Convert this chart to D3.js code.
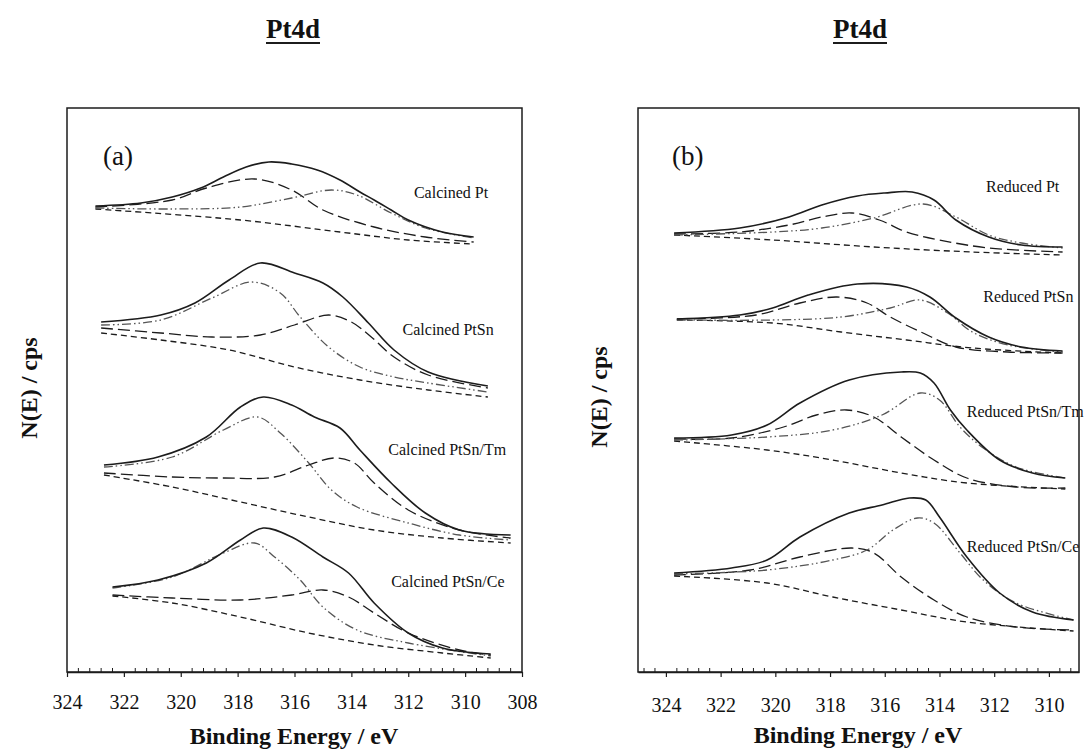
<!DOCTYPE html>
<html>
<head>
<meta charset="utf-8">
<script src="https://cdn.jsdelivr.net/npm/d3@7"></script>
<style>
  body { margin: 0; background: #fff; }
  svg text { font-family: "Liberation Serif", "Times New Roman", serif; fill: #111; }
</style>
</head>
<body>
<svg id="chart" width="1092" height="749"></svg>
<script>
// ---- panel (a) calcined samples: [binding energy eV, N(E) arb.] ----
const calPt_sum = [[323.0,466],[321.4,469],[320.3,475],[319.3,484],[318.5,495],[317.7,505],[316.9,510],[316.1,508],[315.2,502],[314.4,492],[313.7,480],[313.2,472],[312.6,462],[312.0,452],[310.8,440],[309.7,435]]
const calPt_hi  = [[323.0,465],[320.3,472],[319.1,484],[317.4,493],[316.1,482],[315.0,462],[313.2,445],[311.4,435],[309.7,430]]
const calPt_lo  = [[323.0,464],[320.3,463],[317.9,465],[316.1,474],[314.7,482],[313.8,477],[312.6,459],[311.4,444],[309.7,434]]
const calPt_bg  = [[323.0,463],[317.9,452],[314.4,440],[312.0,432],[309.7,428]]

const calPtSn_sum = [[322.8,350],[320.7,357],[319.5,369],[318.3,392],[317.2,409],[316.0,399],[315.0,389],[314.3,375],[313.4,349],[312.5,322],[311.3,300],[309.2,286]]
const calPtSn_hi  = [[322.8,347],[320.7,352],[318.9,374],[317.5,390],[316.5,379],[315.8,355],[314.8,325],[313.7,305],[312.5,295],[311.3,289],[309.2,280]]
const calPtSn_lo  = [[322.8,344],[320.7,339],[318.9,335],[317.2,337],[316.0,347],[314.8,357],[314.0,350],[313.3,335],[312.5,315],[311.3,297],[309.2,284]]
const calPtSn_bg  = [[322.8,339],[320.7,332],[318.3,322],[316.0,305],[313.7,292],[311.3,282],[309.2,275]]

const calTm_sum = [[322.7,207],[320.8,215],[319.1,235],[317.9,265],[317.1,275],[316.1,267],[315.3,255],[314.4,244],[313.7,222],[312.6,189],[311.4,159],[310.2,142],[308.4,137]]
const calTm_hi  = [[322.7,205],[320.3,215],[318.5,242],[317.3,255],[316.5,239],[315.5,209],[314.7,182],[313.8,165],[312.0,149],[310.2,137],[308.4,132]]
const calTm_lo  = [[322.7,199],[320.3,195],[318.5,194],[316.7,195],[315.5,207],[314.6,214],[313.9,209],[313.2,189],[312.0,162],[310.2,142],[308.4,134]]
const calTm_bg  = [[322.7,197],[320.3,185],[317.9,170],[315.5,155],[313.2,142],[310.8,134],[308.4,129]]

const calCe_sum = [[322.4,85],[320.8,92],[319.1,109],[317.9,132],[317.1,144],[316.1,135],[315.0,115],[314.1,99],[313.2,69],[312.0,39],[310.8,24],[309.1,18]]
const calCe_hi  = [[322.4,84],[320.3,95],[318.5,119],[317.4,129],[316.7,115],[315.8,92],[315.0,65],[313.8,42],[312.0,29],[309.1,16]]
const calCe_lo  = [[322.4,77],[320.3,74],[317.9,72],[316.1,77],[315.0,82],[314.1,75],[313.2,59],[312.0,39],[310.2,22],[309.1,17]]
const calCe_bg  = [[322.4,76],[320.3,69],[317.9,55],[315.5,39],[313.2,27],[310.8,19],[309.1,14]]

// ---- panel (b) reduced samples ----
const redPt_sum = [[323.7,439],[321.3,444],[319.5,455],[318.3,467],[317.0,476],[316.0,479],[315.0,480],[314.2,472],[313.4,452],[312.2,435],[311.0,427],[309.5,425]]
const redPt_hi  = [[323.7,438],[321.3,440],[319.5,447],[318.3,455],[317.2,459],[316.2,452],[315.2,440],[314.0,432],[312.2,424],[309.5,420]]
const redPt_lo  = [[323.7,437],[320.1,440],[318.3,444],[316.4,454],[314.6,468],[313.4,455],[312.2,437],[311.0,429],[309.5,424]]
const redPt_bg  = [[323.7,437],[320.1,432],[316.4,425],[312.8,420],[309.5,417]]

const redPtSn_sum = [[323.6,353],[321.3,357],[320.1,364],[318.8,377],[317.0,388],[315.2,385],[314.35,375],[313.4,354],[312.2,335],[311.0,325],[309.5,321]]
const redPtSn_hi  = [[323.6,353],[320.7,357],[319.1,369],[317.75,375],[316.65,369],[315.8,355],[314.6,339],[313.4,325],[311.5,320],[309.5,319]]
const redPtSn_lo  = [[323.6,352],[320.1,352],[317.6,355],[315.8,364],[314.7,372],[313.7,359],[312.8,340],[311.5,327],[309.5,320]]
const redPtSn_bg  = [[323.6,352],[320.1,349],[317.6,340],[315.2,332],[312.8,324],[309.5,319]]

const redTm_sum = [[323.7,234],[321.6,237],[320.3,247],[319.1,269],[317.3,292],[315.4,300],[314.7,299],[314.2,289],[313.6,262],[313.0,242],[311.8,212],[310.6,199],[309.4,194]]
const redTm_hi  = [[323.7,233],[321.6,234],[319.7,245],[318.5,257],[317.4,262],[316.4,255],[315.4,235],[314.2,212],[313.0,194],[311.2,185],[309.4,184]]
const redTm_lo  = [[323.7,232],[320.3,235],[317.9,242],[316.1,257],[314.7,279],[314.0,272],[313.25,245],[312.4,224],[311.2,205],[309.4,194]]
const redTm_bg  = [[323.7,231],[320.3,222],[317.9,212],[315.4,199],[313.0,189],[309.4,183]]

const redCe_sum = [[323.7,99],[321.6,104],[320.3,112],[319.1,135],[317.3,159],[316.1,167],[315.1,174],[314.5,172],[314.0,155],[313.0,115],[311.8,79],[310.6,60],[309.1,52]]
const redCe_hi  = [[323.7,97],[320.9,102],[319.1,115],[317.2,124],[316.4,119],[315.4,95],[314.2,72],[313.0,55],[311.2,45],[309.1,42]]
const redCe_lo  = [[323.7,98],[320.3,102],[317.9,112],[316.65,122],[315.7,142],[314.8,154],[314.2,149],[313.25,119],[312.4,92],[311.2,69],[309.1,52]]
const redCe_bg  = [[323.7,96],[320.3,89],[317.9,75],[315.4,62],[313.0,50],[309.1,41]]

const labelsA = ['Calcined Pt', 'Calcined PtSn', 'Calcined PtSn/Tm', 'Calcined PtSn/Ce']
const labelsB = ['Reduced Pt', 'Reduced PtSn', 'Reduced PtSn/Tm', 'Reduced PtSn/Ce']
const ticksA = [324, 322, 320, 318, 316, 314, 312, 310, 308]
const ticksB = [324, 322, 320, 318, 316, 314, 312, 310]

const dashLong = '12,5'
const dashDot = '9,3,1.5,3,1.5,3'
const dashShort = '6,4'
const ink = '#1c1c1c'

const svg = d3.select('#chart')
const plotTop = 108, plotBottom = 672

function drawPanel(p) {
  const x = d3.scaleLinear().domain(p.domain).range([p.left, p.right])
  const y = d3.scaleLinear().domain([0, 564]).range([plotBottom, plotTop])
  const g = svg.append('g')

  const line = d3.line()
    .x(d => x(d[0]))
    .y(d => y(d[1]))
    .curve(d3.curveCatmullRom.alpha(0.5))

  p.spectra.forEach(s => {
    const curves = [
      { d: s.bg, dash: dashShort, color: ink, w: 1.3 },
      { d: s.hi, dash: s.hiDash, color: s.hiDash === dashDot ? '#555' : ink, w: 1.3 },
      { d: s.lo, dash: s.loDash, color: s.loDash === dashDot ? '#555' : ink, w: 1.3 },
      { d: s.sum, dash: null, color: ink, w: 1.6 }
    ]
    curves.forEach(c => {
      g.append('path')
        .datum(c.d)
        .attr('d', line)
        .attr('fill', 'none')
        .attr('stroke', c.color)
        .attr('stroke-width', c.w)
        .attr('stroke-dasharray', c.dash)
    })
    g.append('text')
      .attr('x', x(s.lab[0]))
      .attr('y', y(s.lab[1]))
      .attr('font-size', 16)
      .text(s.label)
  })

  // frame
  g.append('rect')
    .attr('x', p.left).attr('y', plotTop)
    .attr('width', p.right - p.left).attr('height', plotBottom - plotTop)
    .attr('fill', 'none').attr('stroke', ink).attr('stroke-width', 1.5)

  // axis with outward major ticks
  const ax = g.append('g')
    .attr('transform', 'translate(0,' + plotBottom + ')')
    .call(d3.axisBottom(x).tickValues(p.ticks).tickFormat(d3.format('d')).tickSize(5).tickPadding(p.pad).tickSizeOuter(0))
  ax.select('.domain').attr('stroke', ink).attr('stroke-width', 1.5)
  ax.selectAll('.tick line').attr('stroke', ink).attr('stroke-width', 1.2)
  ax.selectAll('.tick text').attr('font-size', 20).attr('fill', '#111')
    .attr('font-family', '"Liberation Serif", serif')

  // inward minor ticks every 0.4 eV
  const lo = Math.min(p.domain[0], p.domain[1]), hi = Math.max(p.domain[0], p.domain[1])
  const minors = d3.range(Math.ceil(lo / 0.4) * 0.4, hi, 0.4)
    .filter(v => Math.abs(v / 2 - Math.round(v / 2)) > 0.01)
  g.selectAll('.minor').data(minors).join('line')
    .attr('x1', d => x(d)).attr('x2', d => x(d))
    .attr('y1', plotBottom).attr('y2', plotBottom - 4)
    .attr('stroke', ink).attr('stroke-width', 1)

  g.append('text')
    .attr('x', p.panelPos[0]).attr('y', p.panelPos[1])
    .attr('font-size', 27)
    .text(p.panel)

  g.append('text')
    .attr('x', p.xTitle[0]).attr('y', p.xTitle[1])
    .attr('text-anchor', 'middle')
    .attr('font-size', 24).attr('font-weight', 'bold')
    .text('Binding Energy / eV')

  g.append('text')
    .attr('transform', 'translate(' + p.yTitle[0] + ',' + p.yTitle[1] + ') rotate(-90)')
    .attr('text-anchor', 'middle')
    .attr('font-size', 24).attr('font-weight', 'bold')
    .text('N(E) / cps')

  const t = g.append('text')
    .attr('x', p.title[0]).attr('y', p.title[1])
    .attr('text-anchor', 'middle')
    .attr('font-size', 27).attr('font-weight', 'bold')
    .text('Pt4d')
  const bb = t.node().getBBox()
  g.append('line')
    .attr('x1', bb.x).attr('x2', bb.x + bb.width)
    .attr('y1', p.title[1] + 5).attr('y2', p.title[1] + 5)
    .attr('stroke', ink).attr('stroke-width', 2)
}

drawPanel({
  domain: [324, 308], left: 67, right: 522, ticks: ticksA, pad: 18,
  panel: '(a)', panelPos: [103, 165], xTitle: [294, 744], yTitle: [37, 388], title: [293, 38],
  spectra: [
    { label: labelsA[0], lab: [311.8, 474], sum: calPt_sum, hi: calPt_hi, lo: calPt_lo, bg: calPt_bg, hiDash: dashLong, loDash: dashDot },
    { label: labelsA[1], lab: [312.2, 337], sum: calPtSn_sum, hi: calPtSn_hi, lo: calPtSn_lo, bg: calPtSn_bg, hiDash: dashDot, loDash: dashLong },
    { label: labelsA[2], lab: [312.7, 217], sum: calTm_sum, hi: calTm_hi, lo: calTm_lo, bg: calTm_bg, hiDash: dashDot, loDash: dashLong },
    { label: labelsA[3], lab: [312.6, 85], sum: calCe_sum, hi: calCe_hi, lo: calCe_lo, bg: calCe_bg, hiDash: dashDot, loDash: dashLong }
  ]
})

drawPanel({
  domain: [325.02, 308.9], left: 638, right: 1079, ticks: ticksB, pad: 21,
  panel: '(b)', panelPos: [672, 165], xTitle: [858, 743], yTitle: [607, 397], title: [860, 38],
  spectra: [
    { label: labelsB[0], lab: [312.3, 480], sum: redPt_sum, hi: redPt_hi, lo: redPt_lo, bg: redPt_bg, hiDash: dashLong, loDash: dashDot },
    { label: labelsB[1], lab: [312.4, 370], sum: redPtSn_sum, hi: redPtSn_hi, lo: redPtSn_lo, bg: redPtSn_bg, hiDash: dashLong, loDash: dashDot },
    { label: labelsB[2], lab: [313.0, 255], sum: redTm_sum, hi: redTm_hi, lo: redTm_lo, bg: redTm_bg, hiDash: dashLong, loDash: dashDot },
    { label: labelsB[3], lab: [313.0, 120], sum: redCe_sum, hi: redCe_hi, lo: redCe_lo, bg: redCe_bg, hiDash: dashLong, loDash: dashDot }
  ]
})
</script>
</body>
</html>
